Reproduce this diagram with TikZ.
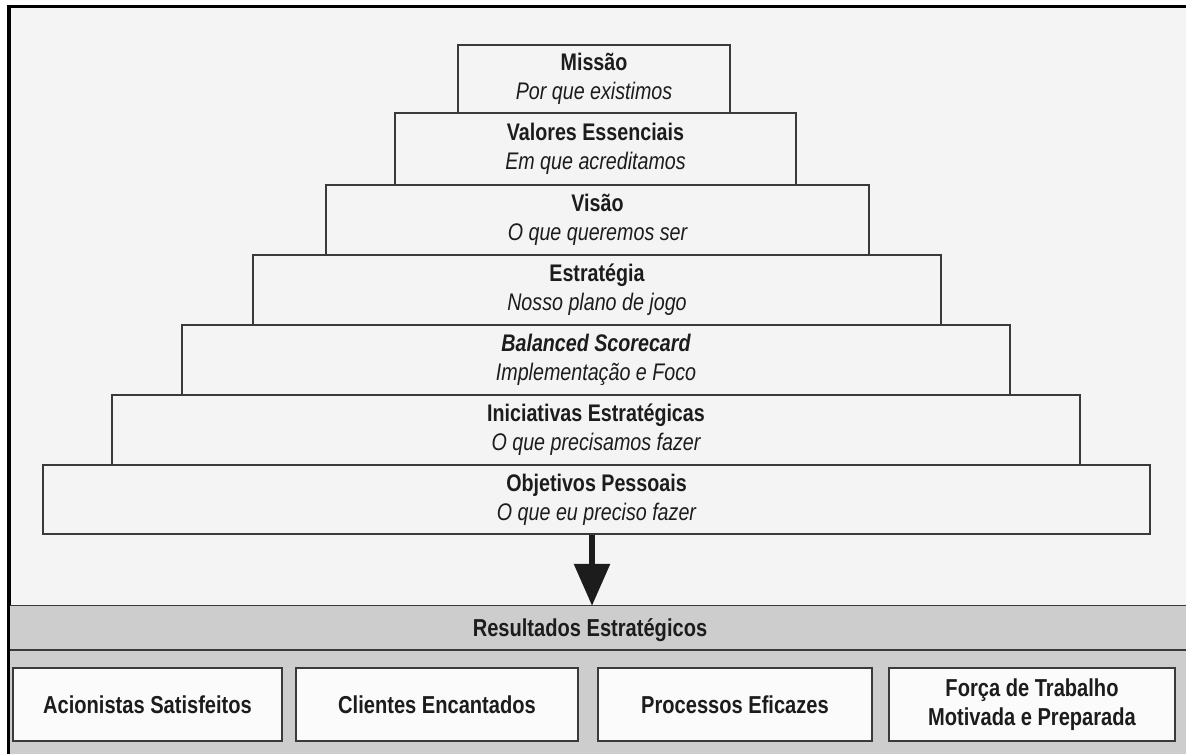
\documentclass[tikz,border=0pt]{standalone}
\usepackage{fontspec}
\setmainfont{Liberation Sans}[FakeStretch=0.82]
\usetikzlibrary{arrows.meta}

\definecolor{paper}{HTML}{F4F4F4}
\definecolor{bandgray}{HTML}{CDCDCD}
\definecolor{ink}{HTML}{1C1C1C}
\definecolor{rule}{HTML}{3A3A3A}

\tikzset{
  tier/.style={draw=rule, line width=1.1pt, fill=paper, inner sep=0pt,
    align=center, text=ink, font=\fontsize{24}{29}\selectfont},
  result/.style={draw=rule, line width=1.1pt, fill=white!60!paper, inner sep=0pt,
    align=center, text=ink, font=\fontsize{24.5}{29}\selectfont\bfseries,
    minimum height=73pt},
  band/.style={fill=bandgray, inner sep=0pt, minimum width=1176pt, minimum height=148pt},
  flow/.style={draw=ink, line width=6pt, -{Triangle[width=35pt,length=42pt]}},
  divider/.style={draw=rule, line width=1.1pt},
}

\begin{document}
\begin{tikzpicture}[x=1pt, y=-1pt]
  \useasboundingbox (0,0) rectangle (1186,754);
  % paper and frame
  \fill[white] (0,0) rectangle (1186,754);
  \fill[paper] (10,8) rectangle (1186,754);
  \fill[black] (7,5) rectangle (10.7,754);
  \fill[black] (7,5) rectangle (1186,8.3);

  % pyramid of tiers
  \node[tier, minimum width=272pt, minimum height=68pt] (missao) at (594,79)
    {\bfseries Missão\\ \itshape Por que existimos};
  \node[tier, minimum width=401pt, minimum height=72pt] (valores) at (595.5,149)
    {\bfseries Valores Essenciais\\ \itshape Em que acreditamos};
  \node[tier, minimum width=543pt, minimum height=70pt] (visao) at (597.5,220)
    {\bfseries Visão\\ \itshape O que queremos ser};
  \node[tier, minimum width=688pt, minimum height=70pt] (estrategia) at (597,290)
    {\bfseries Estratégia\\ \itshape Nosso plano de jogo};
  \node[tier, minimum width=828pt, minimum height=70pt] (balanced) at (596,360)
    {\bfseries\itshape Balanced Scorecard\\ \itshape Implementação e Foco};
  \node[tier, minimum width=968pt, minimum height=70pt] (iniciativas) at (596,430)
    {\bfseries Iniciativas Estratégicas\\ \itshape O que precisamos fazer};
  \node[tier, minimum width=1107pt, minimum height=69pt] (objetivos) at (596.5,499.5)
    {\bfseries Objetivos Pessoais\\ \itshape O que eu preciso fazer};

  % strategic results band
  \node[band] (resband) at (598,680) {};
  \draw[divider] (resband.north west) -- (resband.north east);
  \coordinate (divl) at (10,650);
  \coordinate (divr) at (1186,650);
  \draw[divider] (divl) -- (divr);
  \node[text=ink, font=\fontsize{24.5}{29}\selectfont\bfseries] (resultados) at (590,630)
    {Resultados Estratégicos};

  \node[result, minimum width=269pt] (acionistas) at (147.5,704.5) {Acionistas Satisfeitos};
  \node[result, minimum width=282pt] (clientes) at (437,704.5) {Clientes Encantados};
  \node[result, minimum width=274pt] (processos) at (735,704.5) {Processos Eficazes};
  \node[result, minimum width=286pt] (forca) at (1032,704.5) {Força de Trabalho\\Motivada e Preparada};

  % arrow from the pyramid to the results
  \draw[flow] ([xshift=-4.5pt]objetivos.south) -- ([xshift=-4.5pt]objetivos.south |- resband.north);
\end{tikzpicture}
\end{document}
